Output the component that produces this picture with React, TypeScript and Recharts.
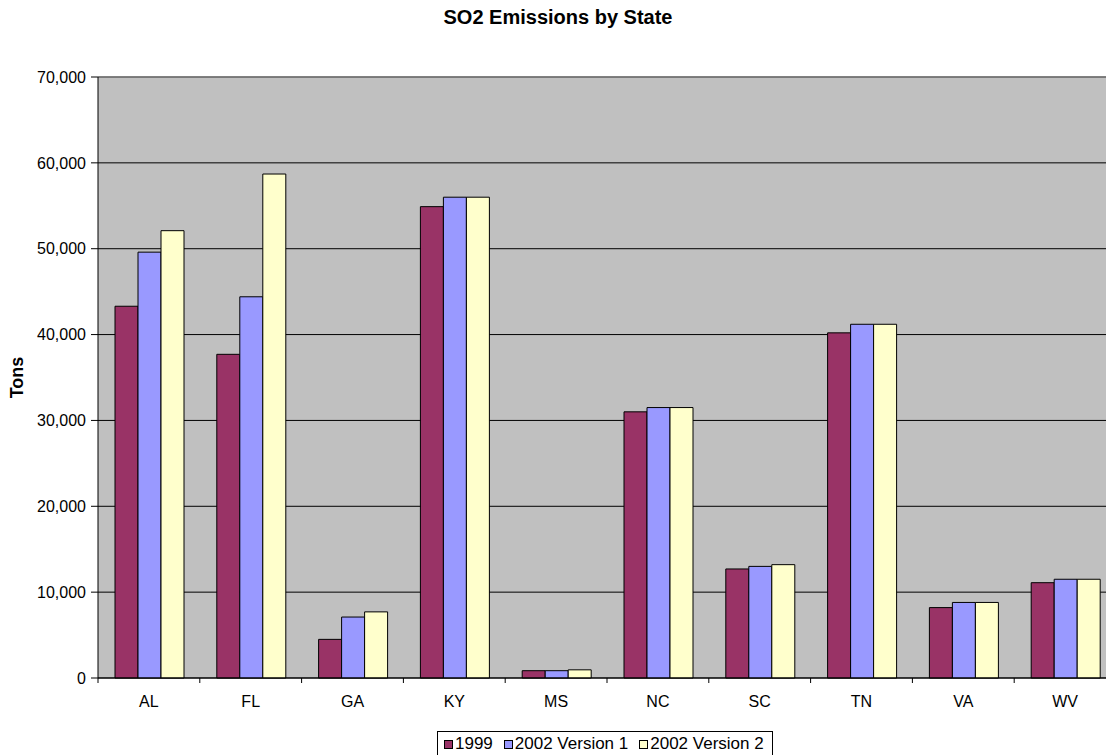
import { BarChart, Bar, XAxis, YAxis, CartesianGrid, Legend, ReferenceLine } from 'recharts'

const states = ['AL', 'FL', 'GA', 'KY', 'MS', 'NC', 'SC', 'TN', 'VA', 'WV']
const y1999 = [43300, 37700, 4500, 54900, 850, 31000, 12700, 40200, 8200, 11100]
const v2002a = [49600, 44400, 7100, 56000, 850, 31500, 13000, 41200, 8800, 11500]
const v2002b = [52100, 58700, 7700, 56000, 950, 31500, 13200, 41200, 8800, 11500]
const yTicks = [0, 10000, 20000, 30000, 40000, 50000, 60000, 70000]

const seriesInfo = [
  { key: 'y1999', name: '1999', color: '#993366' },
  { key: 'v2002a', name: '2002 Version 1', color: '#9999ff' },
  { key: 'v2002b', name: '2002 Version 2', color: '#ffffcc' },
]

const data = states.map((s, i) => ({
  state: s,
  y1999: y1999[i],
  v2002a: v2002a[i],
  v2002b: v2002b[i],
}))

const FONT = '"Liberation Sans", Arial, sans-serif'
const CHART_W = 1116
const PLOT_LEFT = 98
const BAND = (CHART_W - PLOT_LEFT) / states.length

// eslint-disable-next-line @typescript-eslint/no-explicit-any
function StateTick({ x, y, payload }: any) {
  return (
    <g>
      <line x1={x - BAND / 2} x2={x - BAND / 2} y1={y} y2={y + 5} stroke="#000" />
      <text x={x} y={y + 29} textAnchor="middle" fontSize={16} fontFamily={FONT} fill="#000">
        {payload.value}
      </text>
    </g>
  )
}

function LegendBox() {
  return (
    <div
      style={{
        border: '1px solid #000',
        background: '#fff',
        display: 'inline-flex',
        alignItems: 'center',
        padding: '0 8px 0 6px',
        height: 24,
        fontFamily: FONT,
        fontSize: 17,
        color: '#000',
        whiteSpace: 'nowrap',
      }}
    >
      {seriesInfo.map((s, i) => (
        <span key={s.key} style={{ display: 'inline-flex', alignItems: 'center', marginLeft: i ? 11 : 0 }}>
          <span
            style={{
              display: 'inline-block',
              width: 7,
              height: 7,
              border: '1px solid #000',
              background: s.color,
              marginRight: 2,
            }}
          />
          {s.name}
        </span>
      ))}
    </div>
  )
}

export default function App() {
  return (
    <div style={{ position: 'fixed', left: 0, top: 0, width: 1106, height: 755, overflow: 'hidden', background: '#fff' }}>
      <div
        style={{
          position: 'absolute',
          top: 6,
          left: 0,
          width: CHART_W,
          textAlign: 'center',
          fontFamily: FONT,
          fontWeight: 'bold',
          fontSize: 20,
          lineHeight: '22px',
          color: '#000',
        }}
      >
        SO2 Emissions by State
      </div>
      <BarChart
        width={CHART_W}
        height={755}
        data={data}
        margin={{ top: 77, right: 0, bottom: 37, left: 0 }}
        barCategoryGap={17}
        barGap={0}
      >
        <CartesianGrid vertical={false} stroke="#000" fill="#c0c0c0" fillOpacity={1} />
        <XAxis
          dataKey="state"
          height={40}
          tick={<StateTick />}
          tickLine={false}
          tickSize={0}
          tickMargin={0}
          axisLine={{ stroke: '#000' }}
          interval={0}
        />
        <YAxis
          width={PLOT_LEFT}
          domain={[0, 70000]}
          ticks={yTicks}
          interval={0}
          tickSize={7}
          tickMargin={5}
          tickLine={{ stroke: '#000' }}
          axisLine={{ stroke: '#000' }}
          tick={{ fill: '#000', fontSize: 16, fontFamily: FONT }}
          tickFormatter={(v: number) => v.toLocaleString('en-US')}
          label={{
            // eslint-disable-next-line @typescript-eslint/no-explicit-any
            content: (p: any) => {
              const vb = p.viewBox
              const cy = vb.y + vb.height / 2
              return (
                <text
                  x={17}
                  y={cy}
                  transform={`rotate(-90 17 ${cy})`}
                  textAnchor="middle"
                  dominantBaseline="central"
                  fontSize={18}
                  fontWeight="bold"
                  fontFamily={FONT}
                  fill="#000"
                >
                  Tons
                </text>
              )
            },
          }}
        />
        <ReferenceLine y={70000} stroke="#808080" strokeWidth={1.5} />
        {seriesInfo.map((s) => (
          <Bar
            key={s.key}
            dataKey={s.key}
            name={s.name}
            fill={s.color}
            stroke="#000"
            strokeWidth={1}
            isAnimationActive={false}
          />
        ))}
        <Legend
          layout="horizontal"
          verticalAlign="middle"
          align="center"
          content={<LegendBox />}
          wrapperStyle={{ position: 'absolute', left: 437, top: 731, width: 'auto' }}
        />
      </BarChart>
    </div>
  )
}
